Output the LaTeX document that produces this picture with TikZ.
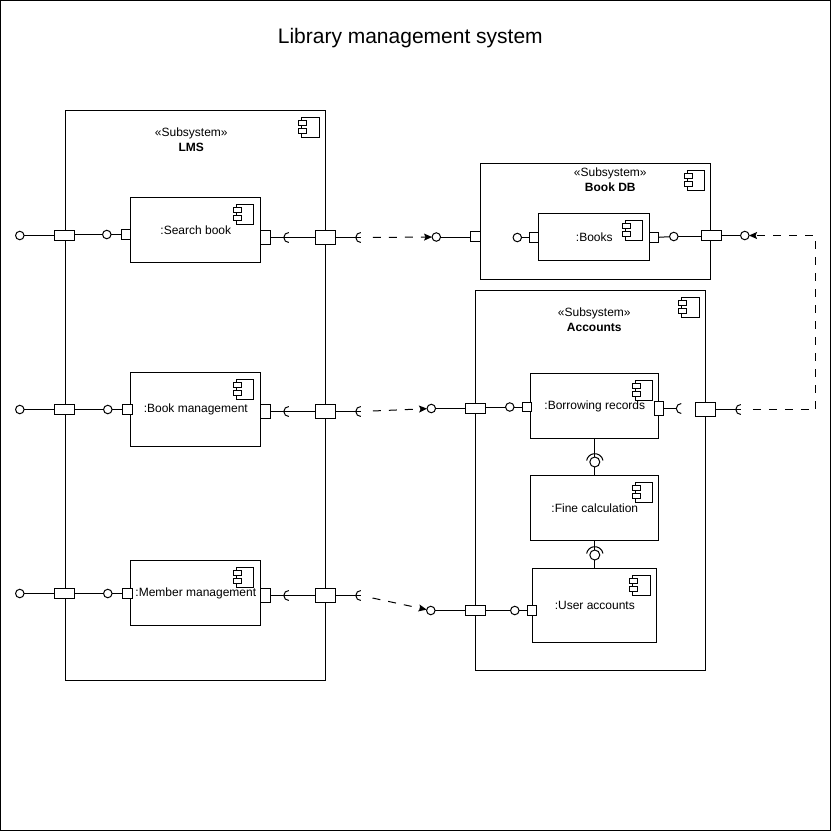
\documentclass[tikz,border=0pt]{standalone}
\usepackage{fontspec}
\setmainfont{Liberation Sans}
\usetikzlibrary{arrows.meta}

\begin{document}
\begin{tikzpicture}[x=1pt,y=-1pt,line width=1pt]
    \tikzset{every node/.style={font=\fontsize{12}{15}\selectfont, inner sep=0pt, outer sep=0pt},
      box/.style={draw, fill=white, align=center},
      lolli/.style={draw, circle, fill=white, minimum size=8.5pt},
      linkport/.style={box, minimum width=20pt, minimum height=10pt},
      bigport/.style={box, minimum width=20pt, minimum height=14pt},
      smallport/.style={box, minimum width=9pt, minimum height=9.5pt},
      tallport/.style={box, minimum width=10pt, minimum height=14pt},
      depend/.style={-{Stealth[length=8pt,width=7pt,inset=1.5pt]}, dash pattern=on 8pt off 8pt, dash phase=8pt, shorten <=4pt},
      icon/.pic={
        \draw (-7,-10) rectangle (10.5,10);
        \draw[fill=white] (-10,-7) rectangle (-2,-2);
        \draw[fill=white] (-10,1) rectangle (-2,6);
      },
      socket/.pic={
        \draw (0pt,5pt) arc[start angle=90, end angle=270, radius=5pt];
      },
      cup/.pic={
        \draw (8.2pt,1.5pt) arc[start angle=10, end angle=170, radius=8.3pt];
      }
    }

    \useasboundingbox (-0.3,0) rectangle (830.7,831);
    \draw (0.2,0.5) rectangle (830.2,830.5);

    \node[font=\fontsize{21}{25}\selectfont] (Title) at (410,38) {Library management system};

    % subsystems
    \node[box, minimum width=260pt, minimum height=570pt] (LMS) at (195.5,395.5) {};
    \node[box, minimum width=230pt, minimum height=116pt] (BookDB) at (595.5,221.5) {};
    \node[box, minimum width=230pt, minimum height=380pt] (Accounts) at (590.5,480.5) {};
    \node[align=center] (LMSname) at (191,140) {«Subsystem»\\\textbf{LMS}};
    \node[align=center] (BookDBname) at (610,180) {«Subsystem»\\\textbf{Book DB}};
    \node[align=center] (Accountsname) at (594,320) {«Subsystem»\\\textbf{Accounts}};
    \pic at (308.5,127.5) {icon};
    \pic at (694,180.5) {icon};
    \pic at (688.5,307.5) {icon};

    % components
    \node[box, minimum width=130pt, minimum height=65pt] (Search) at (195.5,230) {:Search book};
    \node[box, minimum width=130pt, minimum height=74pt] (BookMgmt) at (195.5,409.5) {:Book management};
    \node[box, minimum width=130pt, minimum height=65pt] (Member) at (195.5,593) {:Member management};
    \node[box, minimum width=111pt, minimum height=47pt] (Books) at (594,237) {:Books};
    \node[box, minimum width=128pt, minimum height=65pt] (Borrowing) at (594.5,406) {:Borrowing records};
    \node[box, minimum width=128pt, minimum height=65pt] (Fine) at (594.5,508) {:Fine calculation};
    \node[box, minimum width=124pt, minimum height=74pt] (UserAcc) at (594.5,605.5) {:User accounts};
    \pic at (243,214.5) {icon};
    \pic at (243,389.5) {icon};
    \pic at (243,577.5) {icon};
    \pic at (632,230.5) {icon};
    \pic at (642,390.5) {icon};
    \pic at (642,492.5) {icon};
    \pic at (639.5,585.5) {icon};

    % ports on the left of the LMS
    \node[lolli] (OutA) at (19.5,235.5) {};
    \node[lolli] (OutB) at (19.5,409.5) {};
    \node[lolli] (OutC) at (19.5,593.5) {};
    \node[linkport] (LinkA) at (64.5,235.5) {};
    \node[linkport] (LinkB) at (64.5,409.5) {};
    \node[linkport] (LinkC) at (64.5,593.5) {};
    \node[lolli] (InA) at (106.5,234.5) {};
    \node[lolli] (InB) at (107.5,409.5) {};
    \node[lolli] (InC) at (107.5,593.5) {};
    \node[smallport] (PortA) at (126,234.5) {};
    \node[smallport, minimum width=10pt] (PortB) at (127.5,409.5) {};
    \node[smallport, minimum width=10pt] (PortC) at (127.5,593.5) {};

    % ports on the right of the LMS
    \node[tallport] (ReqA) at (265.5,237.5) {};
    \node[tallport] (ReqB) at (265.5,411.5) {};
    \node[tallport] (ReqC) at (265.5,595.5) {};
    \node[bigport] (ExitA) at (325.5,237.5) {};
    \node[bigport] (ExitB) at (325.5,411.5) {};
    \node[bigport] (ExitC) at (325.5,595.5) {};
    \coordinate (SockA) at (288.5,237.5);
    \coordinate (SockB) at (288.5,411.5);
    \coordinate (SockC) at (288.5,595.5);
    \coordinate (WantA) at (360.5,237.5);
    \coordinate (WantB) at (360.5,411.5);
    \coordinate (WantC) at (360.5,595.5);
    \foreach \s in {SockA,SockB,SockC,WantA,WantB,WantC} \pic at (\s) {socket};

    \draw (OutA) -- (LinkA);
    \draw (InA -| LinkA.east) -- (InA);
    \draw (InA) -- (PortA);
    \draw (OutB) -- (LinkB);
    \draw (LinkB) -- (InB);
    \draw (InB) -- (PortB);
    \draw (OutC) -- (LinkC);
    \draw (LinkC) -- (InC);
    \draw (InC) -- (PortC);
    \draw (ReqA) -- (ExitA);
    \draw (ReqB) -- (ExitB);
    \draw (ReqC) -- (ExitC);
    \draw (ExitA) -- (WantA);
    \draw (ExitB) -- (WantB);
    \draw (ExitC) -- (WantC);

    % book DB
    \node[lolli] (DbIn) at (436,237) {};
    \node[smallport, minimum width=10pt] (DbPort) at (475.5,236.5) {};
    \node[lolli] (BooksIn) at (517,237.5) {};
    \node[smallport] (BooksL) at (534,237.5) {};
    \node[smallport] (BooksR) at (654,237.5) {};
    \node[lolli] (BooksOut) at (673.5,236.5) {};
    \node[linkport] (DbLink) at (711,235.5) {};
    \node[lolli] (DbOut) at (744.5,235.5) {};
    \draw (DbIn) -- (DbIn -| DbPort.west);
    \draw (BooksIn) -- (BooksL);
    \draw (BooksR) -- (BooksOut);
    \draw (BooksOut) -- (BooksOut -| DbLink.west);
    \draw (DbLink) -- (DbOut);

    % accounts
    \node[lolli] (AccInA) at (431,408.5) {};
    \node[linkport] (AccLinkA) at (475.5,408.5) {};
    \node[lolli] (BorIn) at (509.5,407) {};
    \node[smallport] (BorL) at (526.5,407) {};
    \node[box, minimum width=9pt, minimum height=14pt] (BorR) at (659,408.5) {};
    \coordinate (BorSock) at (676,408.5);
    \pic at (681,408.5) {socket};
    \node[bigport] (AccExit) at (705.5,409.5) {};
    \coordinate (AccWant) at (740.5,409.5);
    \pic at (AccWant) {socket};
    \draw (AccInA) -- (AccLinkA);
    \draw (BorIn -| AccLinkA.east) -- (BorIn);
    \draw (BorIn) -- (BorL);
    \draw (BorR) -- (BorSock);
    \draw (AccExit) -- (AccWant);

    \node[lolli] (AccInB) at (430.5,610.5) {};
    \node[linkport] (AccLinkB) at (475.5,610.5) {};
    \node[lolli] (UserIn) at (514.5,610.5) {};
    \node[smallport] (UserL) at (532,610.5) {};
    \draw (AccInB) -- (AccLinkB);
    \draw (AccLinkB) -- (UserIn);
    \draw (UserIn) -- (UserL);

    % provided and required between the components
    \node[lolli, minimum size=10pt] (BallA) at (594.5,462) {};
    \node[lolli, minimum size=10pt] (BallB) at (594.5,555) {};
    \draw (Borrowing) -- (BallA) -- (Fine);
    \draw (Fine) -- (BallB) -- (UserAcc);
    \pic at (BallA) {cup};
    \pic at (BallB) {cup};

    % dependencies
    \coordinate (Bend) at (815.5,409.5);
    \draw[depend] (WantA) -- (DbIn);
    \draw[depend] (WantB) -- (AccInA);
    \draw[depend] (WantC) -- (AccInB);
    \draw[depend] (AccWant) -- (Bend) |- (DbOut);
\end{tikzpicture}
\end{document}
